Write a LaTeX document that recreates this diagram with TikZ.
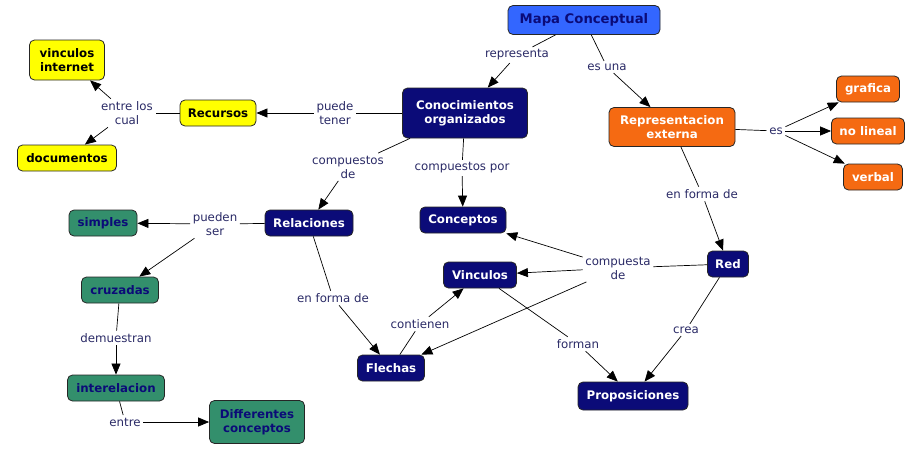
\documentclass[tikz,border=0pt]{standalone}
\usepackage{fontspec}
\setmainfont{DejaVu Sans}
\usetikzlibrary{arrows.meta, positioning}

\definecolor{navybox}{HTML}{0B0B78}
\definecolor{mapblue}{HTML}{3366FF}
\definecolor{orangebox}{HTML}{F56A12}
\definecolor{greenbox}{HTML}{338F6C}
\definecolor{yellowbox}{HTML}{FFFF00}
\definecolor{phrasetext}{HTML}{2A2A66}
\newcommand{\mapfont}{\fontsize{11.8}{14}\selectfont}

\begin{document}
\begin{tikzpicture}[x=1pt, y=-1pt,
    concept/.style={draw=black!85, line width=0.8pt, rounded corners=5pt, align=center,
        font=\mapfont\bfseries, inner xsep=6pt, inner ysep=5pt, minimum height=26pt},
    navy/.style={concept, fill=navybox, text=white},
    yellowc/.style={concept, fill=yellowbox, text=black},
    orangec/.style={concept, fill=orangebox, text=white},
    greenc/.style={concept, fill=greenbox, text=navybox},
    phrase/.style={text=phrasetext, align=center, font=\mapfont, inner sep=2.5pt},
    link/.style={line width=0.7pt},
    arr/.style={line width=0.7pt, -{Triangle[length=11pt, width=9pt]}}]
    \useasboundingbox (0,0) rectangle (924,458);

    % main concept and its two branches
    \node[concept, fill=mapblue, text=navybox, font=\fontsize{13.2}{16}\selectfont\bfseries,
        minimum width=152pt, minimum height=29pt] (mapa) at (584,20) {Mapa Conceptual};
    \node[navy, minimum width=125pt, minimum height=50pt] (conoc) at (465,113) {Conocimientos\\organizados};
    \node[orangec, minimum width=126pt, minimum height=39pt] (repext) at (672,127) {Representacion\\externa};
    \node[phrase] (repr) at (517,55) {representa};
    \node[phrase] (esuna) at (607,67) {es una};
    \draw[link] (mapa) -- (repr);
    \draw[arr] (repr) -- (conoc);
    \draw[link] (mapa) -- (esuna);
    \draw[arr] (esuna) -- (repext);

    % resources (yellow)
    \node[yellowc, minimum width=76pt] (recursos) at (218,113) {Recursos};
    \node[yellowc, minimum width=75pt, minimum height=40pt] (vinint) at (67,60) {vinculos\\internet};
    \node[yellowc, minimum width=99pt] (docs) at (67,158) {documentos};
    \node[phrase] (tener) at (335,113) {puede\\tener};
    \node[phrase] (entrelos) at (127,113) {entre los\\cual};
    \draw[link] (conoc) -- (tener);
    \draw[arr] (tener) -- (recursos);
    \draw[link] (recursos) -- (entrelos);
    \draw[arr] (entrelos) -- (vinint);
    \draw[arr] (entrelos) -- (docs);

    % external representation (orange)
    \node[orangec, minimum width=63pt] (grafica) at (868,89) {grafica};
    \node[orangec, minimum width=73pt] (nolineal) at (868,131) {no lineal};
    \node[orangec, minimum width=59pt] (verbal) at (873,177) {verbal};
    \node[phrase] (es) at (776,131) {es};
    \draw[link] (repext) -- (es);
    \draw[arr] (es) -- (grafica);
    \draw[arr] (es) -- (nolineal);
    \draw[arr] (es) -- (verbal);

    % network part (navy)
    \node[navy, minimum width=41pt] (red) at (728,264) {Red};
    \node[navy, minimum width=86pt] (conceptos) at (463,220) {Conceptos};
    \node[navy, minimum width=88pt] (relac) at (309,223) {Relaciones};
    \node[navy, minimum width=73pt] (vinculos) at (480,275) {Vinculos};
    \node[navy, minimum width=67pt] (flechas) at (391,368) {Flechas};
    \node[navy, minimum width=110pt, minimum height=28pt] (props) at (633,396) {Proposiciones};
    \node[phrase] (formade) at (702,194) {en forma de};
    \node[phrase] (compdeA) at (348,167) {compuestos\\de};
    \node[phrase] (comppor) at (462,168) {compuestos por};
    \node[phrase] (compta) at (618,268) {compuesta\\de};
    \node[phrase] (crea) at (686,330) {crea};
    \node[phrase] (forman) at (578,344) {forman};
    \node[phrase] (formadeB) at (333,298) {en forma de};
    \node[phrase] (contienen) at (420,324) {contienen};
    \draw[link] (repext) -- (formade);
    \draw[arr] (formade) -- (red);
    \draw[link] (conoc) -- (compdeA);
    \draw[arr] (compdeA) -- (relac);
    \draw[link] (conoc) -- (comppor);
    \draw[arr] (comppor) -- (conceptos);
    \draw[link] (red) -- (compta);
    \draw[arr] (compta) -- (conceptos);
    \draw[arr] (compta) -- (vinculos);
    \draw[arr] (compta) -- (flechas);
    \draw[link] (red) -- (crea);
    \draw[arr] (crea) -- (props);
    \draw[link] (vinculos) -- (forman);
    \draw[arr] (forman) -- (props);
    \draw[link] (relac) -- (formadeB);
    \draw[arr] (formadeB) -- (flechas);
    \draw[link] (flechas) -- (contienen);
    \draw[arr] (contienen) -- (vinculos);

    % kinds of relations (green)
    \node[greenc, minimum width=68pt] (simples) at (103,223) {simples};
    \node[greenc, minimum width=77pt] (cruzadas) at (120,290) {cruzadas};
    \node[greenc, minimum width=97pt] (interel) at (116,388) {interelacion};
    \node[greenc, minimum width=95pt, minimum height=43pt] (difconc) at (257,422) {Differentes\\conceptos};
    \node[phrase] (puedenser) at (215,224) {pueden\\ser};
    \node[phrase] (demuestran) at (116,338) {demuestran};
    \node[phrase] (entre) at (125,422) {entre};
    \draw[link] (relac) -- (puedenser);
    \draw[arr] (puedenser) -- (simples);
    \draw[arr] (puedenser) -- (cruzadas);
    \draw[link] (cruzadas) -- (demuestran);
    \draw[arr] (demuestran) -- (interel);
    \draw[link] (interel) -- (entre);
    \draw[arr] (entre) -- (difconc);
\end{tikzpicture}
\end{document}
